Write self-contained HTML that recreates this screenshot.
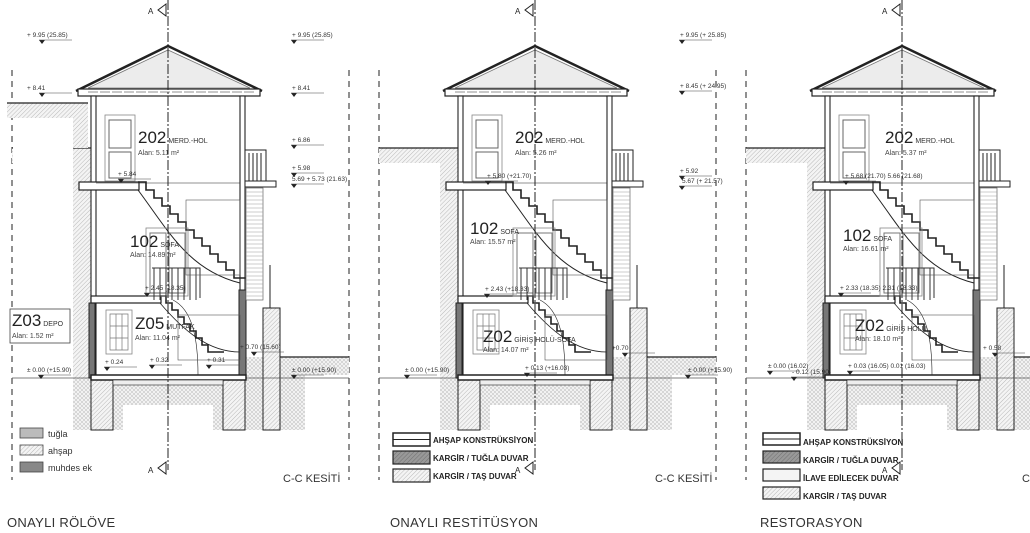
<!DOCTYPE html>
<html><head><meta charset="utf-8"><style>
html,body{margin:0;padding:0;background:#fff}
svg{display:block;font-family:"Liberation Sans",sans-serif}
.lv{font-size:6.5px;fill:#333}
.rn{font-size:17px;fill:#222}
.rs{font-size:7px;fill:#333}
.al{font-size:7px;fill:#444}
.lg{font-size:8px;font-weight:bold;fill:#222}
.tt{font-size:13px;fill:#333;letter-spacing:0.3px}
.ck{font-size:11px;fill:#333}
</style></head><body>
<svg width="1030" height="533" viewBox="0 0 1030 533" xmlns="http://www.w3.org/2000/svg">
<defs>
<pattern id="h" width="3" height="3" patternUnits="userSpaceOnUse" patternTransform="rotate(45)">
<rect width="3" height="3" fill="#f4f4f4"/><line x1="0" y1="0" x2="0" y2="3" stroke="#aaa" stroke-width="0.8"/></pattern>
<pattern id="hd" width="3" height="3" patternUnits="userSpaceOnUse" patternTransform="rotate(45)">
<rect width="3" height="3" fill="#999"/><line x1="0" y1="0" x2="0" y2="3" stroke="#666" stroke-width="0.8"/></pattern>
<pattern id="hx" width="4" height="4" patternUnits="userSpaceOnUse">
<rect width="4" height="4" fill="#f2f2f2"/><path d="M0 4L4 0M0 0L4 4" stroke="#bbb" stroke-width="0.5"/></pattern>
<g id="bld" fill="none" stroke="#222">
<line x1="-156" y1="70" x2="-156" y2="480" stroke-dasharray="6 5" stroke-width="1"/>
<line x1="181" y1="70" x2="181" y2="480" stroke-dasharray="6 5" stroke-width="1"/>
<path d="M-156 148H-77V430H-95V163H-156Z" fill="url(#h)" stroke="none"/>
<line x1="-156" y1="148" x2="-77" y2="148" stroke-width="1.2"/>
<path d="M-95 378H118V430H45V405H-45V430H-95Z" fill="url(#hx)" stroke="none"/>
<rect x="-77" y="378" width="22" height="52" fill="url(#h)" stroke="#222" stroke-width="1"/>
<rect x="55" y="378" width="22" height="52" fill="url(#h)" stroke="#222" stroke-width="1"/>
<path d="M78 357H181V375H137V430H78Z" fill="url(#hx)" stroke="none"/>
<line x1="112" y1="357" x2="181" y2="357" stroke-width="1.2"/>
<rect x="95" y="308" width="17" height="122" fill="url(#h)" stroke="#222" stroke-width="1"/>
<line x1="-156" y1="378" x2="181" y2="378" stroke="#555" stroke-width="0.7"/>
<path d="M-80 88L0 50L82 88Z" fill="#ececec" stroke="#777" stroke-width="0.8"/>
<path d="M-92 91L0 46L94 91" stroke-width="2.5"/>
<rect x="-90" y="89" width="182" height="7" fill="#fff" stroke-width="1.2"/>
<path d="M-80 92h166" stroke-width="0.6" stroke-dasharray="10 2"/>
<rect x="-77" y="96" width="5" height="282" fill="#fff" stroke-width="1.1"/>
<rect x="72" y="96" width="5" height="282" fill="#fff" stroke-width="1.1"/>
<rect x="-79" y="303" width="6" height="75" fill="#777" stroke-width="1"/>
<rect x="71" y="290" width="7" height="88" fill="#777" stroke-width="1"/>
<rect x="-89" y="182" width="60" height="8" fill="#fff" stroke-width="1.2"/>
<line x1="-72" y1="183" x2="72" y2="183" stroke-width="0.5"/>
<rect x="-77" y="296" width="70" height="7" fill="#fff" stroke-width="1.2"/>
<rect x="-77" y="375" width="155" height="5" fill="#fff" stroke-width="1.5"/>
<rect x="-55" y="380" width="110" height="5" fill="#eee" stroke-width="0.6"/>
<path d="M-30 182h8v8h8v8h8v8h8v8h8v8h8v8h8v8h8v8h8v8h8v8h8v8h8v8h12" stroke-width="1.6"/>
<path d="M-30 190C0 230 20 270 72 283" stroke-width="1"/>
<path d="M-8 296h6v7h6v7h6v7h6v7h6v7h6v7h6v7h6v7h16" stroke-width="1.6"/>
<path d="M-8 303C15 330 40 352 72 352" stroke-width="0.8"/>
<path d="M5 300C25 310 30 340 30 375" stroke-width="0.6"/>
<rect x="-63" y="115" width="30" height="66" stroke="#888" stroke-width="0.8"/>
<rect x="-59" y="120" width="22" height="28" stroke="#666" stroke-width="1"/>
<rect x="-59" y="152" width="22" height="26" stroke="#666" stroke-width="1"/>
<rect x="-22" y="228" width="42" height="68" stroke="#888" stroke-width="0.8"/>
<rect x="-18" y="233" width="16" height="60" stroke="#777"/>
<rect x="1" y="233" width="16" height="60" stroke="#777"/>
<path d="M-16 268h48v30M-14 268v32M-8 268v32M-2 268v32M4 268v32M10 268v32M16 268v32M22 268v32M28 268v32" stroke="#333" stroke-width="1"/>
<rect x="-62" y="310" width="26" height="44" stroke="#888" stroke-width="0.8"/>
<path d="M-58 314h18v36h-18zM-58 326h18M-58 338h18M-52 314v36M-46 314v36" stroke="#777" stroke-width="0.7"/>
<rect x="18" y="200" width="54" height="75" stroke="#555" stroke-width="0.6"/>
<rect x="10" y="315" width="62" height="45" stroke="#555" stroke-width="0.6"/>
<rect x="77" y="150" width="21" height="31" fill="#fff" stroke-width="1"/>
<path d="M81 153v28M85 153v28M89 153v28M93 153v28" stroke-width="1"/>
<rect x="77" y="181" width="31" height="6" fill="#fff" stroke-width="1"/>
<rect x="78" y="188" width="17" height="112" fill="#fff" stroke="#666" stroke-width="0.7"/>
<path d="M78 192h17M78 196h17M78 200h17M78 204h17M78 208h17M78 212h17M78 216h17M78 220h17M78 224h17M78 228h17M78 232h17M78 236h17M78 240h17M78 244h17M78 248h17M78 252h17M78 256h17M78 260h17M78 264h17M78 268h17M78 272h17M78 276h17M78 280h17M78 284h17M78 288h17M78 292h17M78 296h17" stroke="#999" stroke-width="0.6"/>
<line x1="102" y1="265" x2="102" y2="308" stroke-width="1"/>
<line x1="0" y1="0" x2="0" y2="470" stroke-dasharray="10 2 2 2" stroke-width="1"/>
<path d="M-2 4l-8 6l8 6z" fill="#fff" stroke-width="1"/>
<path d="M-2 462l-8 6l8 6z" fill="#fff" stroke-width="1"/>
</g>
<g id="mk"><path d="M-3 0h6l-3 4z" fill="#222"/><line x1="-3" y1="0" x2="30" y2="0" stroke="#444" stroke-width="0.5"/></g>
</defs>

<!-- PANEL 1 -->
<use href="#bld" x="168"/>
<rect x="13" y="146" width="60" height="19" fill="#fff"/>
<path d="M7 103H88V148H73V118H7Z" fill="url(#h)"/>
<line x1="7" y1="103" x2="88" y2="103" stroke="#222" stroke-width="1.2"/>
<text x="148" y="14" font-size="8" fill="#222">A</text>
<text x="148" y="473" font-size="8" fill="#222">A</text>
<rect x="10" y="309" width="60" height="34" fill="#fff" stroke="#444" stroke-width="0.8"/>
<text x="12" y="326" class="rn">Z03<tspan class="rs"> DEPO</tspan></text>
<text x="12" y="338" class="al">Alan: 1.52 m²</text>
<text x="138" y="143" class="rn">202<tspan class="rs"> MERD.-HOL</tspan></text>
<text x="138" y="155" class="al">Alan: 5.11 m²</text>
<text x="130" y="247" class="rn">102<tspan class="rs"> SOFA</tspan></text>
<text x="130" y="257" class="al">Alan: 14.89 m²</text>
<text x="135" y="329" class="rn">Z05<tspan class="rs"> MUTFAK</tspan></text>
<text x="135" y="340" class="al">Alan: 11.04 m²</text>
<g class="lv">
<text x="27" y="37">+ 9.95 (25.85)</text><use href="#mk" x="42" y="40"/>
<text x="292" y="37">+ 9.95 (25.85)</text><use href="#mk" x="294" y="40"/>
<text x="27" y="90">+ 8.41</text><use href="#mk" x="42" y="93"/>
<text x="292" y="90">+ 8.41</text><use href="#mk" x="294" y="93"/>
<text x="292" y="142">+ 6.86</text><use href="#mk" x="294" y="145"/>
<text x="292" y="170">+ 5.98</text><use href="#mk" x="294" y="173"/>
<text x="292" y="181">5.69 + 5.73 (21.63)</text><use href="#mk" x="294" y="184"/>
<text x="118" y="176">+ 5.84</text><use href="#mk" x="121" y="179"/>
<text x="145" y="290">+ 2.45 (18.35)</text><use href="#mk" x="147" y="293"/>
<text x="105" y="364">+ 0.24</text><use href="#mk" x="107" y="367"/>
<text x="150" y="362">+ 0.32</text><use href="#mk" x="152" y="365"/>
<text x="207" y="362">+ 0.31</text><use href="#mk" x="209" y="365"/>
<text x="240" y="349">+ 0.70 (15.60)</text><use href="#mk" x="254" y="352"/>
<text x="27" y="372">± 0.00 (+15.90)</text><use href="#mk" x="41" y="375"/>
<text x="292" y="372">± 0.00 (+15.90)</text><use href="#mk" x="294" y="375"/>
</g>
<rect x="20" y="428" width="23" height="10" fill="#bbb" stroke="#444" stroke-width="0.8"/>
<rect x="20" y="445" width="23" height="10" fill="url(#h)" stroke="#444" stroke-width="0.8"/>
<rect x="20" y="462" width="23" height="10" fill="#888" stroke="#444" stroke-width="0.8"/>
<text x="48" y="437" font-size="9" fill="#333">tuğla</text>
<text x="48" y="454" font-size="9" fill="#333">ahşap</text>
<text x="48" y="471" font-size="9" fill="#333">muhdes ek</text>
<text x="283" y="482" class="ck">C-C KESİTİ</text>
<text x="7" y="527" class="tt">ONAYLI RÖLÖVE</text>

<!-- PANEL 2 -->
<use href="#bld" x="535"/>
<text x="515" y="14" font-size="8" fill="#222">A</text>
<text x="515" y="473" font-size="8" fill="#222">A</text>
<text x="515" y="143" class="rn">202<tspan class="rs"> MERD.-HOL</tspan></text>
<text x="515" y="155" class="al">Alan: 5.26 m²</text>
<text x="470" y="234" class="rn">102<tspan class="rs"> SOFA</tspan></text>
<text x="470" y="244" class="al">Alan: 15.57 m²</text>
<text x="483" y="342" class="rn">Z02<tspan class="rs"> GİRİŞ HOLÜ-SOFA</tspan></text>
<text x="483" y="352" class="al">Alan: 14.07 m²</text>
<g class="lv">
<text x="680" y="37">+ 9.95 (+ 25.85)</text><use href="#mk" x="682" y="40"/>
<text x="680" y="88">+ 8.45 (+ 24.95)</text><use href="#mk" x="682" y="91"/>
<text x="680" y="173">+ 5.92</text><use href="#mk" x="682" y="176"/>
<text x="682" y="183">5.67 (+ 21.57)</text><use href="#mk" x="682" y="186"/>
<text x="487" y="178">+ 5.80 (+21.70)</text><use href="#mk" x="488" y="181"/>
<text x="485" y="291">+ 2.43 (+18.33)</text><use href="#mk" x="487" y="294"/>
<text x="525" y="370">+ 0.13 (+16.03)</text><use href="#mk" x="527" y="373"/>
<text x="612" y="350">+0.70</text><use href="#mk" x="625" y="353"/>
<text x="405" y="372">± 0.00 (+15.90)</text><use href="#mk" x="407" y="375"/>
<text x="688" y="372">± 0.00 (+15.90)</text><use href="#mk" x="688" y="375"/>
</g>
<rect x="393" y="433" width="37" height="13" fill="#fff" stroke="#222" stroke-width="1.5"/>
<line x1="393" y1="439.5" x2="430" y2="439.5" stroke="#222"/>
<rect x="393" y="451" width="37" height="13" fill="url(#hd)" stroke="#222" stroke-width="1.2"/>
<rect x="393" y="469" width="37" height="13" fill="url(#h)" stroke="#222" stroke-width="1.2"/>
<text x="433" y="443" class="lg">AHŞAP KONSTRÜKSİYON</text>
<text x="433" y="461" class="lg">KARGİR / TUĞLA DUVAR</text>
<text x="433" y="479" class="lg">KARGİR / TAŞ DUVAR</text>
<text x="655" y="482" class="ck">C-C KESİTİ</text>
<text x="390" y="527" class="tt">ONAYLI RESTİTÜSYON</text>

<!-- PANEL 3 -->
<use href="#bld" x="902"/>
<text x="882" y="14" font-size="8" fill="#222">A</text>
<text x="882" y="473" font-size="8" fill="#222">A</text>
<text x="885" y="143" class="rn">202<tspan class="rs"> MERD.-HOL</tspan></text>
<text x="885" y="155" class="al">Alan: 5.37 m²</text>
<text x="843" y="241" class="rn">102<tspan class="rs"> SOFA</tspan></text>
<text x="843" y="251" class="al">Alan: 16.61 m²</text>
<text x="855" y="331" class="rn">Z02<tspan class="rs"> GİRİŞ HOLÜ</tspan></text>
<text x="855" y="341" class="al">Alan: 18.10 m²</text>
<g class="lv">
<text x="845" y="178">+ 5.68 (21.70) 5.66 (21.68)</text><use href="#mk" x="846" y="181"/>
<text x="840" y="290">+ 2.33 (18.35) 2.31 (18.33)</text><use href="#mk" x="841" y="293"/>
<text x="983" y="350">+ 0.58</text><use href="#mk" x="995" y="353"/>
<text x="768" y="368">± 0.00 (16.02)</text><use href="#mk" x="770" y="371"/>
<text x="792" y="374">- 0.12 (15.90)</text><use href="#mk" x="794" y="377"/>
<text x="848" y="368">+ 0.03 (16.05) 0.01 (16.03)</text><use href="#mk" x="850" y="371"/>
</g>
<rect x="763" y="433" width="37" height="12" fill="#fff" stroke="#222" stroke-width="1.5"/>
<line x1="763" y1="439" x2="800" y2="439" stroke="#222"/>
<rect x="763" y="451" width="37" height="12" fill="url(#hd)" stroke="#222" stroke-width="1.2"/>
<rect x="763" y="469" width="37" height="12" fill="#f4f4f4" stroke="#222" stroke-width="1.2"/>
<rect x="763" y="487" width="37" height="12" fill="url(#h)" stroke="#222" stroke-width="1.2"/>
<text x="803" y="445" class="lg">AHŞAP KONSTRÜKSİYON</text>
<text x="803" y="463" class="lg">KARGİR / TUĞLA DUVAR</text>
<text x="803" y="481" class="lg">İLAVE EDİLECEK DUVAR</text>
<text x="803" y="499" class="lg">KARGİR / TAŞ DUVAR</text>
<text x="1022" y="482" class="ck">C</text>
<text x="760" y="527" class="tt">RESTORASYON</text>
</svg>
</body></html>
